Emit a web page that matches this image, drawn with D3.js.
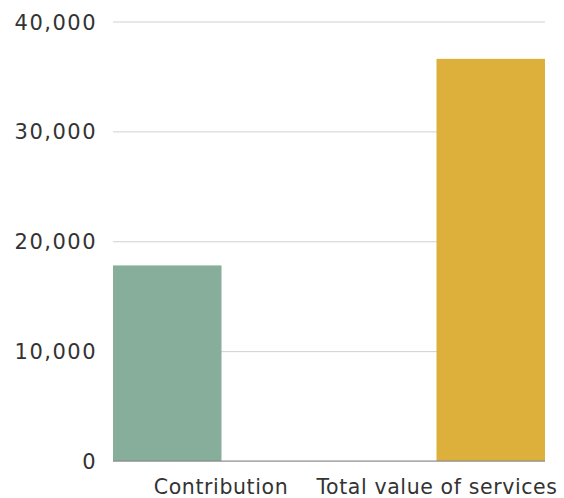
<!DOCTYPE html>
<html><head><meta charset="utf-8">
<script src="https://cdn.jsdelivr.net/npm/d3@7"></script>
<style>body{margin:0;background:#fff}svg{display:block}text{font-family:"DejaVu Sans",sans-serif;fill:#333}</style>
</head><body>
<script>
const categories = ["Contribution", "Total value of services"];
const values = [17800, 36600];
const colors = ["#86ae9b", "#dcb03a"];
const yTicks = [0, 10000, 20000, 30000, 40000];

const W = 564, H = 498;
const m = {left: 113, right: 19, top: 21.5, bottom: 37};
const svg = d3.select("body").append("svg").attr("width", W).attr("height", H);

const y = d3.scaleLinear().domain([0, 40000]).range([H - m.bottom, m.top]);
const x = d3.scaleBand().domain(categories).range([m.left, W - m.right]).paddingInner(0.6646).paddingOuter(0);
const xl = d3.scaleBand().domain(categories).range([m.left, W - m.right]).padding(0);

const yAxis = d3.axisLeft(y).tickValues(yTicks).tickSize(-(W - m.left - m.right)).tickFormat(d3.format(",")).tickPadding(16);
const gy = svg.append("g").attr("transform", `translate(${m.left},0)`).call(yAxis);
gy.select(".domain").remove();
gy.selectAll(".tick line").attr("stroke", "#d0d0d0").attr("stroke-width", 1);
gy.selectAll(".tick text").attr("font-size", 21).attr("fill", "#333")
  .style("font-family", "'DejaVu Sans', sans-serif").style("letter-spacing", "1.5px").attr("dy", "0.36em");

svg.append("g").selectAll("rect").data(values).join("rect")
  .attr("x", (d, i) => x(categories[i]))
  .attr("width", x.bandwidth())
  .attr("y", d => y(d))
  .attr("height", d => y(0) - y(d))
  .attr("fill", (d, i) => colors[i]);

svg.append("line").attr("x1", m.left).attr("x2", W - m.right).attr("y1", y(0)).attr("y2", y(0)).attr("stroke", "#888").attr("stroke-width", 1);

const xAxis = d3.axisBottom(xl).tickSize(0).tickPadding(0);
const gx = svg.append("g").attr("transform", `translate(0,${y(0)})`).call(xAxis);
gx.select(".domain").remove();
gx.selectAll(".tick text").attr("font-size", 20.5).attr("fill", "#333").attr("dy", null).attr("y", 33)
  .style("font-family", "'DejaVu Sans', sans-serif").style("letter-spacing", "0.6px");
</script>
</body></html>
